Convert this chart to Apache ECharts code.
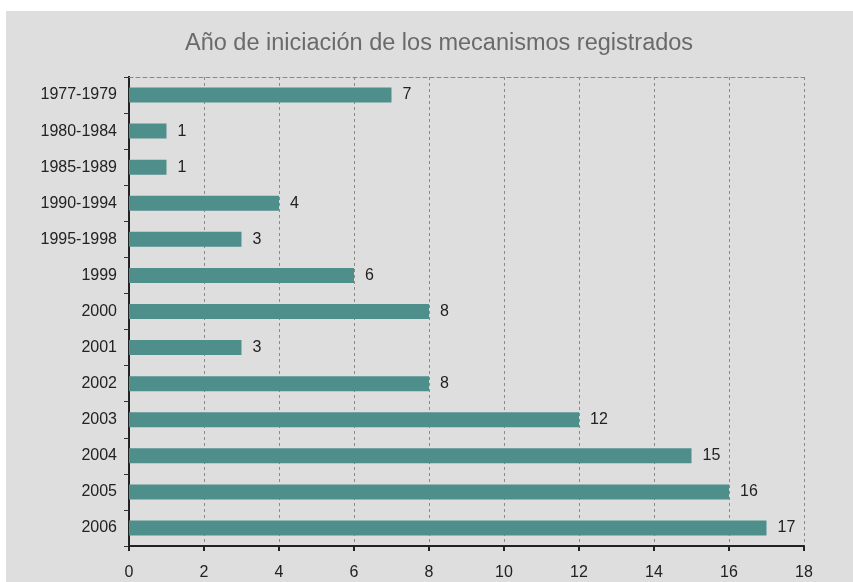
<!DOCTYPE html>
<html>
<head>
<meta charset="utf-8">
<script src="https://cdn.jsdelivr.net/npm/echarts@6/dist/echarts.min.js"></script>
<style>
html,body{margin:0;padding:0;background:#fff;}
#bg{position:absolute;left:6px;top:11px;width:847px;height:571px;background:#dedede;}
#chart{position:absolute;left:0;top:0;width:853px;height:582px;}
</style>
</head>
<body>
<div id="bg"></div>
<div id="chart"></div>
<script>
const titleText = 'Año de iniciación de los mecanismos registrados';
const categories = ['1977-1979','1980-1984','1985-1989','1990-1994','1995-1998','1999','2000','2001','2002','2003','2004','2005','2006'];
const values = [7,1,1,4,3,6,8,3,8,12,15,16,17];
const xTicks = [0,2,4,6,8,10,12,14,16,18];

const chart = echarts.init(document.getElementById('chart'), null, {renderer:'canvas'});
chart.setOption({
  backgroundColor: 'transparent',
  animation: false,
  textStyle: {fontFamily: 'Liberation Sans, Arial, sans-serif'},
  title: {
    text: titleText,
    left: 180, top: 27,
    textStyle: {fontSize: 23.5, fontWeight: 'normal', color: '#6a6a6a', fontFamily: 'Liberation Sans, Arial, sans-serif'}
  },
  grid: {left: 129, right: 49, top: 77, bottom: 36, containLabel: false},
  xAxis: [{
    type: 'value', min: xTicks[0], max: xTicks[xTicks.length-1], interval: 2,
    axisLine: {show: true, lineStyle: {color: '#222', width: 2}},
    axisTick: {show: true, inside: false, length: 5, lineStyle: {color: '#222', width: 2}},
    axisLabel: {fontSize: 16, color: '#222', margin: 19, formatter: v => xTicks.indexOf(v) >= 0 ? String(v) : ''},
    splitLine: {show: true, lineStyle: {color: '#8a8a8a', type: [3, 3], width: 1}}
  }, {
    type: 'value', position: 'top', min: 0, max: 18, interval: 2,
    axisLine: {show: true, lineStyle: {color: '#888', type: [4, 3], width: 1}},
    axisTick: {show: false}, axisLabel: {show: false}, splitLine: {show: false}
  }],
  yAxis: [{
    type: 'category', data: categories, inverse: true,
    axisLine: {show: true, lineStyle: {color: '#111', width: 2}},
    axisTick: {show: true, length: 5, lineStyle: {color: '#333'}},
    axisLabel: {fontSize: 16, color: '#222', margin: 12}
  }, {
    type: 'category', data: categories, inverse: true, position: 'right',
    axisLine: {show: true, lineStyle: {color: '#222', width: 2}},
    axisTick: {show: false}, axisLabel: {show: false}
  }],
  series: [{
    type: 'bar', data: values, barWidth: 15,
    itemStyle: {color: '#4e8f8c'},
    label: {show: true, position: 'right', distance: 11, fontSize: 16, color: '#222'}
  }]
});
</script>
</body>
</html>
